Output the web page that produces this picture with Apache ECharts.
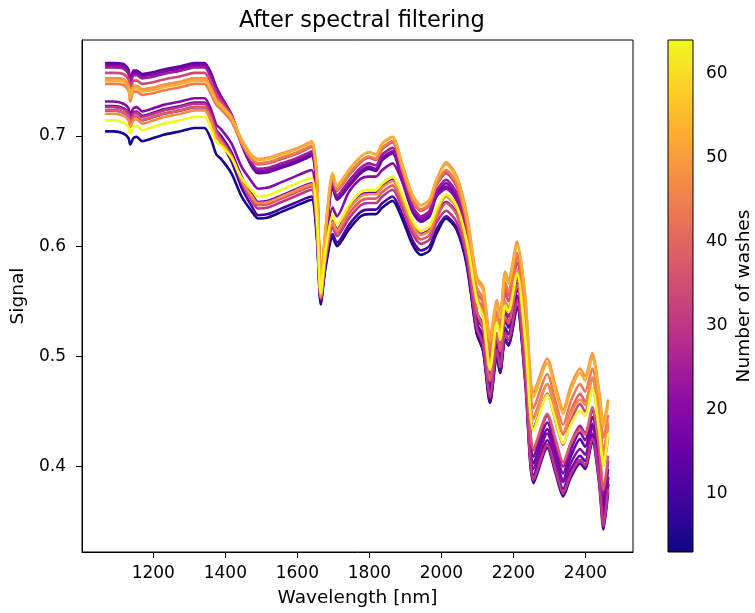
<!DOCTYPE html>
<html>
<head>
<meta charset="utf-8">
<script src="https://cdn.jsdelivr.net/npm/echarts@6/dist/echarts.min.js"></script>
<style>
  html, body { margin: 0; padding: 0; background: #fff; }
  #chart { width: 755px; height: 613px; }
</style>
</head>
<body>
<div id="chart"></div>
<script>
"use strict";

// wavelength grid (nm)
const wavelengths = [1066,1089,1117,1131,1136,1145,1154,1169,1192,1229,1276,1314,1342,1360,1375,1388,1417,1445,1472,1491,1519,1556,1593,1621,1640,1654,1665,1678,1698,1710,1743,1776,1799,1818,1836,1864,1892,1920,1943,1967,1986,2013,2042,2070,2098,2116,2135,2154,2163,2177,2186,2210,2233,2256,2294,2317,2338,2359,2385,2399,2419,2438,2450,2463];

// number of washes for each plotted spectrum
const washes = [4, 10, 14, 15, 18, 20, 24, 30, 34, 38, 39, 44, 47, 49, 53, 64];

// signal of each spectrum (same order as washes)
const signal04 = [.704,.704,.702,.698,.692,.698,.699,.695,.697,.701,.704,.707,.707,.697,.683,.679,.666,.645,.632,.625,.626,.631,.636,.640,.642,.608,.547,.580,.608,.600,.615,.627,.629,.629,.635,.641,.624,.601,.592,.596,.611,.625,.615,.583,.521,.505,.458,.501,.485,.516,.510,.545,.478,.388,.420,.397,.376,.393,.406,.401,.426,.388,.349,.385];
const signal10 = [.723,.723,.721,.717,.711,.717,.718,.714,.716,.720,.723,.726,.726,.716,.700,.694,.677,.653,.637,.628,.629,.634,.639,.643,.645,.611,.549,.582,.611,.603,.619,.631,.633,.633,.639,.645,.628,.605,.596,.600,.615,.627,.617,.585,.521,.505,.458,.501,.485,.516,.510,.545,.476,.385,.417,.394,.373,.390,.403,.398,.423,.385,.343,.377];
const signal14 = [.766,.766,.765,.760,.750,.759,.759,.756,.757,.760,.763,.766,.766,.757,.744,.736,.719,.692,.673,.666,.667,.671,.675,.679,.682,.652,.559,.604,.653,.642,.654,.666,.670,.668,.678,.684,.658,.631,.622,.627,.645,.654,.642,.608,.529,.520,.475,.508,.495,.534,.526,.561,.501,.403,.434,.409,.388,.409,.425,.418,.439,.405,.361,.391];
const signal15 = [.727,.727,.725,.721,.715,.721,.722,.718,.720,.724,.727,.730,.730,.720,.705,.700,.685,.663,.648,.640,.641,.646,.651,.655,.657,.623,.555,.592,.623,.615,.634,.646,.648,.648,.654,.660,.643,.620,.611,.615,.630,.640,.630,.598,.531,.515,.468,.511,.495,.526,.520,.555,.485,.392,.424,.401,.380,.397,.410,.405,.430,.392,.350,.384];
const signal18 = [.764,.764,.763,.758,.748,.757,.757,.754,.755,.758,.761,.764,.764,.755,.742,.735,.719,.693,.674,.668,.669,.673,.677,.681,.684,.654,.560,.606,.655,.644,.656,.668,.672,.670,.680,.686,.660,.633,.624,.629,.647,.657,.645,.611,.534,.525,.480,.513,.500,.539,.531,.566,.506,.409,.440,.415,.394,.415,.431,.424,.445,.411,.368,.398];
const signal20 = [.731,.731,.729,.725,.719,.725,.726,.722,.724,.728,.731,.734,.734,.724,.710,.706,.693,.672,.659,.652,.653,.658,.663,.667,.669,.635,.561,.602,.635,.627,.649,.661,.663,.663,.669,.675,.658,.635,.626,.630,.645,.652,.642,.610,.541,.525,.478,.521,.505,.536,.530,.565,.493,.398,.430,.407,.386,.403,.416,.411,.436,.398,.356,.390];
const signal24 = [.762,.762,.761,.756,.746,.755,.755,.752,.753,.756,.759,.762,.762,.753,.741,.734,.719,.694,.676,.670,.671,.675,.679,.683,.686,.656,.561,.608,.657,.646,.659,.671,.675,.673,.683,.689,.663,.636,.627,.632,.650,.660,.648,.614,.539,.530,.485,.518,.505,.544,.536,.571,.512,.415,.446,.421,.400,.421,.437,.430,.451,.417,.376,.405];
const signal30 = [.726,.726,.724,.720,.714,.720,.721,.717,.719,.723,.726,.729,.729,.719,.704,.697,.682,.658,.642,.634,.635,.640,.645,.649,.651,.617,.552,.587,.617,.609,.625,.637,.639,.639,.645,.651,.634,.611,.602,.606,.621,.632,.622,.590,.526,.510,.463,.506,.490,.521,.515,.550,.480,.388,.420,.397,.376,.393,.406,.401,.426,.388,.346,.380];
const signal34 = [.757,.757,.756,.751,.741,.750,.750,.747,.748,.751,.754,.757,.757,.748,.737,.731,.718,.695,.679,.674,.675,.679,.683,.687,.690,.660,.563,.611,.661,.650,.664,.676,.680,.678,.688,.694,.668,.641,.632,.637,.655,.666,.654,.620,.553,.544,.499,.532,.519,.558,.550,.585,.529,.435,.466,.441,.420,.441,.457,.450,.471,.437,.401,.427];
const signal38 = [.723,.723,.721,.717,.711,.717,.718,.714,.716,.720,.723,.726,.726,.716,.702,.696,.682,.659,.644,.637,.638,.643,.648,.652,.654,.620,.553,.589,.620,.612,.629,.641,.643,.643,.649,.655,.638,.615,.606,.610,.625,.639,.629,.597,.541,.525,.478,.521,.505,.536,.530,.565,.501,.416,.448,.425,.404,.421,.434,.429,.454,.416,.379,.410];
const signal39 = [.752,.752,.751,.746,.736,.745,.745,.742,.743,.746,.749,.752,.752,.743,.733,.728,.716,.694,.679,.675,.676,.680,.684,.688,.691,.661,.563,.612,.662,.651,.665,.677,.681,.679,.689,.695,.669,.642,.633,.638,.656,.668,.656,.622,.558,.549,.504,.537,.524,.563,.555,.590,.536,.444,.475,.450,.429,.450,.466,.459,.480,.446,.414,.437];
const signal44 = [.747,.747,.746,.741,.731,.740,.740,.737,.738,.741,.744,.747,.747,.738,.728,.724,.713,.693,.679,.675,.676,.680,.684,.688,.691,.661,.563,.612,.662,.651,.665,.677,.681,.679,.689,.695,.669,.642,.633,.638,.656,.669,.657,.623,.562,.553,.508,.541,.528,.567,.559,.594,.543,.453,.484,.459,.438,.459,.475,.468,.489,.455,.426,.447];
const signal47 = [.720,.720,.718,.714,.708,.714,.715,.711,.713,.717,.720,.723,.723,.713,.699,.694,.681,.660,.646,.639,.640,.645,.650,.654,.656,.622,.554,.591,.622,.614,.633,.645,.647,.647,.653,.659,.642,.619,.610,.614,.629,.645,.635,.603,.555,.539,.492,.535,.519,.550,.544,.579,.522,.443,.475,.452,.431,.448,.461,.456,.481,.443,.411,.440];
const signal49 = [.752,.752,.751,.746,.736,.745,.745,.742,.743,.746,.749,.752,.752,.743,.732,.728,.717,.697,.683,.679,.680,.684,.688,.692,.695,.665,.566,.615,.666,.655,.669,.681,.685,.683,.693,.699,.673,.646,.637,.642,.660,.676,.664,.630,.572,.563,.518,.551,.538,.577,.569,.604,.555,.467,.498,.473,.452,.473,.489,.482,.503,.469,.440,.461];
const signal53 = [.750,.750,.749,.744,.734,.743,.743,.740,.741,.744,.747,.750,.750,.741,.731,.727,.716,.696,.682,.678,.679,.683,.687,.691,.694,.664,.565,.614,.665,.654,.669,.681,.685,.683,.693,.699,.673,.646,.637,.642,.660,.674,.662,.628,.569,.560,.515,.548,.535,.574,.566,.601,.551,.463,.494,.469,.448,.469,.485,.478,.499,.465,.436,.457];
const signal64 = [.714,.714,.712,.708,.702,.708,.709,.705,.707,.711,.714,.717,.717,.707,.694,.691,.680,.662,.651,.645,.646,.651,.656,.660,.662,.628,.557,.596,.628,.620,.637,.649,.651,.651,.657,.663,.646,.623,.614,.618,.633,.647,.637,.605,.551,.535,.488,.531,.515,.546,.540,.575,.515,.433,.465,.442,.421,.438,.451,.446,.471,.433,.401,.430];

const signals = [signal04, signal10, signal14, signal15, signal18, signal20, signal24, signal30, signal34, signal38, signal39, signal44, signal47, signal49, signal53, signal64];

// axis ticks
const xTicks = [1200, 1400, 1600, 1800, 2000, 2200, 2400];
const yTicks = [0.4, 0.5, 0.6, 0.7];
const washTicks = [10, 20, 30, 40, 50, 60];
const washRange = [3, 64];

// plasma colormap
const plasma = ["#0d0887","#41049d","#6a00a8","#8f0da4","#b12a90","#cc4778","#e16462","#f2844b","#fca636","#fcce25","#f0f921"];

const hexToRgb = (h) => [1, 3, 5].map((i) => parseInt(h.slice(i, i + 2), 16));

const washColor = (n) => {
  const t = Math.min(1, Math.max(0, (n - washRange[0]) / (washRange[1] - washRange[0])));
  const pos = t * (plasma.length - 1);
  const lo = Math.min(Math.floor(pos), plasma.length - 2);
  const f = pos - lo;
  const a = hexToRgb(plasma[lo]);
  const b = hexToRgb(plasma[lo + 1]);
  const c = a.map((v, k) => Math.round(v + (b[k] - v) * f));
  return `rgb(${c[0]},${c[1]},${c[2]})`;
};

const font = "DejaVu Sans";
const ink = "#000";
const tickFont = 17;
const labelFont = 18.5;

const chart = echarts.init(document.getElementById("chart"), null, { renderer: "canvas" });

const lineSeries = washes.map((n, i) => ({
  type: "line",
  name: `${n} washes`,
  xAxisIndex: 0,
  yAxisIndex: 0,
  data: wavelengths.map((w, j) => [w, signals[i][j]]),
  showSymbol: false,
  smooth: 0.25,
  lineStyle: { width: 2.6, color: washColor(n) },
  itemStyle: { color: washColor(n) },
  z: 2 + i,
  silent: true,
  animation: false,
}));

const colorbarSeries = {
  type: "custom",
  xAxisIndex: 1,
  yAxisIndex: 1,
  data: [[0, washRange[0]]],
  silent: true,
  animation: false,
  renderItem: (params, api) => {
    const p0 = api.coord([0, washRange[0]]);
    const p1 = api.coord([1, washRange[1]]);
    return {
      type: "rect",
      shape: { x: p0[0], y: p1[1], width: p1[0] - p0[0], height: p0[1] - p1[1] },
      style: {
        fill: new echarts.graphic.LinearGradient(0, 1, 0, 0,
          plasma.map((c, k) => ({ offset: k / (plasma.length - 1), color: c }))),
        stroke: ink,
        lineWidth: 1,
      },
    };
  },
};

const tickStyle = { show: true, length: 6, lineStyle: { color: ink, width: 1 } };

const option = {
  backgroundColor: "#fff",
  animation: false,
  title: {
    text: "After spectral filtering",
    left: 234,
    top: 5,
    textStyle: { fontFamily: font, fontSize: 22.5, fontWeight: "normal", color: ink },
  },
  grid: [
    { left: 82, top: 40, width: 551, height: 512, show: true, borderColor: ink, borderWidth: 1, backgroundColor: "transparent" },
    { left: 668, top: 40, width: 26, height: 512 },
  ],
  xAxis: [
    {
      type: "value",
      gridIndex: 0,
      min: 1002,
      max: 2532,
      name: "Wavelength [nm]",
      nameLocation: "middle",
      nameGap: 37,
      nameTextStyle: { fontFamily: font, fontSize: labelFont, color: ink },
      axisLine: { show: true, lineStyle: { color: ink, width: 1 } },
      axisTick: { ...tickStyle, customValues: xTicks },
      axisLabel: { customValues: xTicks, formatter: (v) => String(v), fontFamily: font, fontSize: tickFont, color: ink, margin: 13 },
      splitLine: { show: false },
    },
    { type: "value", gridIndex: 1, min: 0, max: 1, show: false },
  ],
  yAxis: [
    {
      type: "value",
      gridIndex: 0,
      min: 0.3227,
      max: 0.7868,
      name: "Signal",
      nameLocation: "middle",
      nameGap: 52,
      nameRotate: 90,
      nameTextStyle: { fontFamily: font, fontSize: labelFont, color: ink },
      axisLine: { show: true, lineStyle: { color: ink, width: 1 } },
      axisTick: { ...tickStyle, customValues: yTicks },
      axisLabel: { customValues: yTicks, formatter: (v) => v.toFixed(1), fontFamily: font, fontSize: tickFont, color: ink, margin: 16 },
      splitLine: { show: false },
    },
    {
      type: "value",
      gridIndex: 1,
      position: "right",
      min: washRange[0],
      max: washRange[1],
      name: "Number of washes",
      nameLocation: "middle",
      nameGap: 42,
      nameRotate: 90,
      nameTextStyle: { fontFamily: font, fontSize: labelFont, color: ink },
      axisLine: { show: false },
      axisTick: { ...tickStyle, customValues: washTicks },
      axisLabel: { customValues: washTicks, fontFamily: font, fontSize: tickFont, color: ink, margin: 13 },
      splitLine: { show: false },
    },
  ],
  series: [...lineSeries, colorbarSeries],
};

chart.setOption(option);
</script>
</body>
</html>
